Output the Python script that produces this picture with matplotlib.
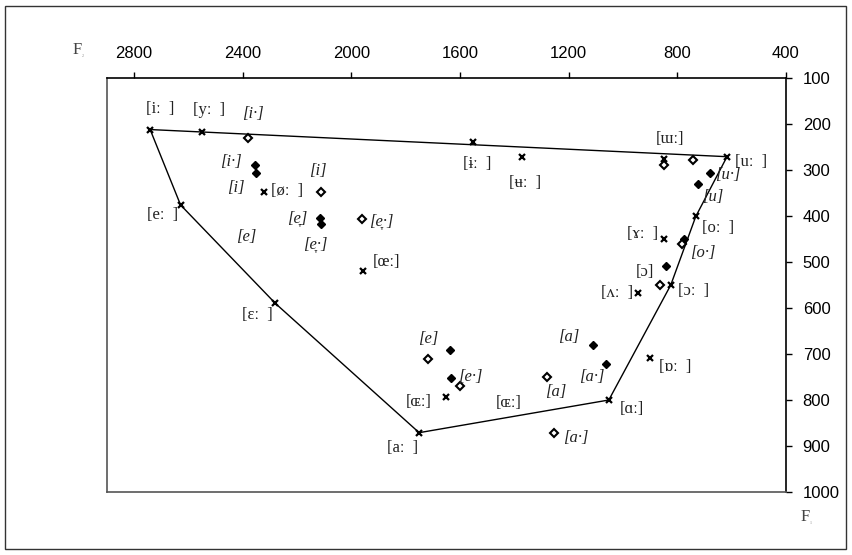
import matplotlib
matplotlib.use("Agg")
import matplotlib.pyplot as plt
from matplotlib.patches import Rectangle

# long vowels (crosses), F2 / F1 in Hz
long_f2 = [2740, 2550, 2320, 2628, 2279, 1750, 1651, 1955, 1550, 1373,
           848, 617, 732, 848, 944, 824, 901, 1052]
long_f1 = [212, 218, 347, 376, 590, 871, 793, 519, 240, 271,
           277, 271, 401, 449, 568, 550, 709, 800]

# short vowels, one speaker group (filled diamonds)
filled_f2 = [2355, 2350, 2115, 2110, 1636, 1632, 678, 724, 775, 842, 1110, 1063]
filled_f1 = [288, 307, 405, 418, 691, 752, 307, 330, 449, 508, 680, 722]

# short vowels, other group (open diamonds)
open_f2 = [2380, 2111, 1960, 1719, 1599, 1278, 1253, 848, 742, 781, 862]
open_f1 = [230, 348, 407, 711, 770, 751, 871, 290, 278, 461, 550]

# outer vowel polygon
hull_f2 = [2740, 2628, 2279, 1750, 1052, 824, 732, 617, 2740]
hull_f1 = [212, 376, 590, 871, 800, 550, 401, 271, 212]

# labels: text, F2, F1, italic
labels = [
    ("[iː  ]", 2702, 168, False), ("[yː  ]", 2525, 170, False),
    ("[i·]", 2361, 178, True), ("[i·]", 2442, 283, True),
    ("[i]", 2423, 340, True), ("[øː  ]", 2235, 346, False),
    ("[i]", 2124, 302, True), ("[eː  ]", 2696, 398, False),
    ("[e̞]", 2200, 405, True), ("[e̞·]", 2132, 461, True),
    ("[e]", 2386, 445, True), ("[ɨː  ]", 1536, 287, False),
    ("[ʉː  ]", 1360, 328, False), ("[e̞·]", 1888, 411, True),
    ("[œː]", 1869, 501, False), ("[ɯː]", 828, 233, False),
    ("[uː  ]", 528, 282, False), ("[u·]", 615, 311, True),
    ("[u]", 668, 358, True), ("[oː  ]", 650, 427, False),
    ("[ɤː  ]", 926, 438, False), ("[o·]", 705, 481, True),
    ("[ɔ]", 920, 521, False), ("[ʌː  ]", 1021, 568, False),
    ("[ɔː  ]", 740, 563, False), ("[a]", 1198, 664, True),
    ("[a·]", 1115, 749, True), ("[ɒː  ]", 808, 728, False),
    ("[ɑː]", 968, 820, False), ("[a·]", 1173, 883, True),
    ("[e]", 1716, 667, True), ("[e·]", 1560, 749, True),
    ("[ɶː]", 1753, 805, False), ("[ɶː]", 1422, 807, False),
    ("[a]", 1247, 782, True), ("[aː  ]", 1810, 905, False),
    ("[ɛː  ]", 2344, 615, False),
]

fig = plt.figure(figsize=(8.52, 5.55), dpi=100)
ax = fig.add_axes([0.1252, 0.1135, 0.7973, 0.7459])

ax.plot(hull_f2, hull_f1, color="black", lw=1, zorder=1)
ax.plot(long_f2, long_f1, ls="none", marker="x", ms=5, mew=1.6, color="black", zorder=3)
ax.plot(filled_f2, filled_f1, ls="none", marker="D", ms=4.2, color="black", zorder=3)
ax.plot(open_f2, open_f1, ls="none", marker="D", ms=4.2, mfc="white", mec="black",
        mew=1.5, zorder=3)

serif = ["Liberation Serif", "DejaVu Serif"]
for txt, x, y, it in labels:
    ax.text(x, y, txt, ha="center", va="center", fontsize=12, family=serif,
            style="italic" if it else "normal", color="#222222")

ax.set_xlim(2900, 400)
ax.set_ylim(1000, 100)
ax.set_xticks([2800, 2400, 2000, 1600, 1200, 800, 400])
ax.set_yticks(range(100, 1001, 100))
ax.xaxis.tick_top()
ax.yaxis.tick_right()
ax.tick_params(direction="out", length=4, width=1, labelsize=12, pad=8)
for lab in ax.get_xticklabels() + ax.get_yticklabels():
    lab.set_family("Liberation Sans")
for s in ["left", "bottom"]:
    ax.spines[s].set_color("#555555")
for s in ax.spines.values():
    s.set_linewidth(1.2)

# axis names F2 / F1
fig.text(77 / 852, 1 - 50 / 555, "F", fontsize=12, family=serif, ha="center", va="center",
         color="#444444")
fig.text(83 / 852, 1 - 56 / 555, "2", fontsize=3, family=serif, ha="center", va="center",
         color="#888888")
fig.text(805 / 852, 1 - 517 / 555, "F", fontsize=12, family=serif, ha="center", va="center",
         color="#444444")
fig.text(811 / 852, 1 - 523 / 555, "1", fontsize=3, family=serif, ha="center", va="center",
         color="#888888")

# outer frame
fig.patches.append(Rectangle((5 / 852, 6 / 555), 841 / 852, 543 / 555,
                             transform=fig.transFigure, fill=False, lw=1,
                             edgecolor="#333333"))

fig.savefig("out.png", dpi=100)
